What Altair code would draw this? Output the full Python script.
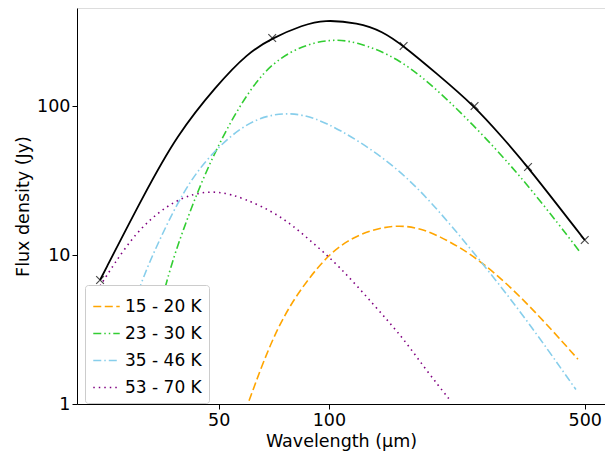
import altair as alt
import pandas as pd

tot_x = [23.7, 31.2, 38.4, 49.4, 60, 70, 85, 96.9, 120, 140, 160, 196, 250, 299, 350, 500]
tot_y = [6.8, 25.3, 63.8, 138, 227, 286, 350, 380, 362, 318, 253, 167, 100, 61, 39, 12.6]
mk_x = [23.7, 70, 160, 250, 350, 500]
mk_y = [6.8, 286, 253, 100, 39, 12.6]

c1_x = [60.5, 72.1, 88.7, 110, 156, 201, 263, 354, 479]
c1_y = [1.05, 3.4, 7.3, 13.0, 16.9, 13.6, 9.1, 4.6, 2.0]
c2_x = [30, 35.5, 40.1, 45.6, 53.7, 66.4, 83.3, 100.6, 118, 156, 207, 286, 368, 488]
c2_y = [1.0, 6.3, 15.2, 34.4, 79, 180, 253, 281, 273, 210, 117, 52, 25.3, 10.3]
c3_x = [24.4, 29.9, 33.9, 40.1, 47.2, 59.7, 75.3, 96, 147, 192, 252, 339, 473]
c3_y = [1.15, 5.7, 11.7, 27.3, 47, 79, 92.6, 83, 43, 22.3, 10, 4.0, 1.25]
c4_x = [23.7, 25.8, 29.9, 36.1, 42.8, 50, 58.6, 73.5, 88.7, 107, 134, 159, 184, 215]
c4_y = [6.2, 8.6, 14.5, 21.7, 26.1, 26.9, 24.1, 18.6, 12.6, 8.4, 4.5, 2.8, 1.7, 1.05]

labels = ["15 - 20 K", "23 - 30 K", "35 - 46 K", "53 - 70 K"]
colors = ["#ffa500", "#32cd32", "#87ceeb", "#800080"]
dashes = [[8, 3.5], [8, 3, 1.5, 3, 1.5, 3], [8, 3, 1.5, 3], [1.5, 4]]

rows = []
for lab, xs, ys in zip(labels, [c1_x, c2_x, c3_x, c4_x], [c1_y, c2_y, c3_y, c4_y]):
    for x, y in zip(xs, ys):
        rows.append({"x": x, "y": y, "s": lab})
comp = pd.DataFrame(rows)
tot = pd.DataFrame({"x": tot_x, "y": tot_y})
mk = pd.DataFrame({"x": mk_x, "y": mk_y})

X = alt.X("x:Q", scale=alt.Scale(type="log", domain=[20.5, 568], nice=False),
          axis=alt.Axis(title="Wavelength (μm)", values=[50, 100, 500]))
Y = alt.Y("y:Q", scale=alt.Scale(type="log", domain=[1, 455], nice=False),
          axis=alt.Axis(title="Flux density (Jy)", values=[1, 10, 100], format="d"))

lines = alt.Chart(comp).mark_line(interpolate="basis", strokeWidth=1.6, clip=True).encode(
    x=X, y=Y,
    color=alt.Color("s:N", scale=alt.Scale(domain=labels, range=colors),
                    legend=alt.Legend(title=None, orient="none", legendX=8, legendY=277)),
    strokeDash=alt.StrokeDash("s:N", scale=alt.Scale(domain=labels, range=dashes), legend=None),
)
total = alt.Chart(tot).mark_line(interpolate="basis", color="black", strokeWidth=1.8, clip=True).encode(x=X, y=Y)
marks = alt.Chart(mk).mark_point(shape="M-1,-1L1,1M-1,1L1,-1", size=60, color="black",
                                  strokeWidth=1.2, clip=True).encode(x=X, y=Y)

chart = alt.layer(lines, total, marks).properties(
    width=528, height=396, padding={"left": 6, "top": 0, "right": 0, "bottom": 5}
).configure_view(stroke="black", strokeWidth=1).configure(font="DejaVu Sans").configure_axis(
    labelFont="DejaVu Sans", titleFont="DejaVu Sans", grid=False, labelFontSize=17.5,
    titleFontSize=17.5, titleFontWeight="normal", tickColor="black", domainColor="black",
    labelColor="black", titleColor="black", tickSize=5
).configure_legend(
    labelFont="DejaVu Sans", labelFontSize=17, labelColor="black", symbolType="stroke",
    symbolStrokeWidth=1.6, symbolSize=700, padding=7, strokeColor="#ccc", fillColor="white",
    cornerRadius=3, rowPadding=4
)
chart.save("out.html", embed_options={"renderer": "svg", "actions": False})
